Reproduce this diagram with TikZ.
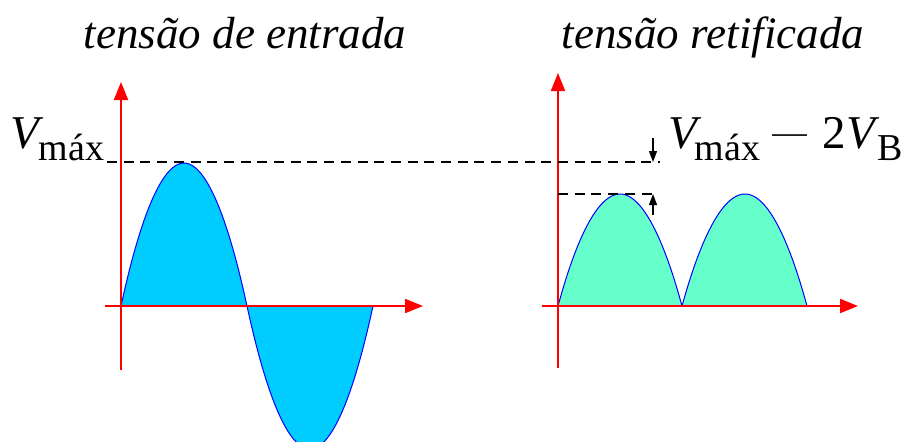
\documentclass[tikz,border=0pt]{standalone}
\usepackage{fontspec}
\setmainfont{Liberation Serif}
\usepackage{graphicx}
\usetikzlibrary{arrows.meta}
\definecolor{axis}{HTML}{FF0000}
\definecolor{curve}{HTML}{0000FF}
\definecolor{inwave}{HTML}{00CCFF}
\definecolor{outwave}{HTML}{66FFCC}
\definecolor{ink}{HTML}{000000}
\newcommand{\bigsz}{\fontsize{47}{52}\selectfont}
\newcommand{\subsz}{\fontsize{38}{42}\selectfont}
\tikzset{
  axisline/.style={draw=axis,line width=2pt,-{Triangle[length=18pt,width=14pt]}},
  wave/.style={draw=curve,line width=1pt},
  inwavefill/.style={wave,fill=inwave},
  outwavefill/.style={wave,fill=outwave},
  guide/.style={draw=ink,line width=1.6pt,dash pattern=on 10pt off 6.7pt},
  marker/.style={draw=ink,line width=1.2pt,-{Triangle[length=11pt,width=8pt]}},
  title/.style={font=\fontsize{45}{50}\selectfont\itshape,text=ink,anchor=base,inner sep=0},
  value/.style={font=\bigsz,text=ink,anchor=base west,inner sep=0},
}

\begin{document}
\begin{tikzpicture}[x=1pt,y=-1pt]
\useasboundingbox (0,0) rectangle (903,442);

% input voltage
\path[inwavefill] (121,306) parabola bend (184,163) (247,306) -- cycle;
\path[inwavefill] (247,306) parabola bend (310,449) (373,306) -- cycle;
\draw[axisline] (121,370) -- (121,82);
\draw[axisline] (105,306) -- (423,306);

% rectified voltage
\path[outwavefill] (558,306) parabola bend (620,194) (682,306) -- cycle;
\path[outwavefill] (682,306) parabola bend (745,194) (807,306) -- cycle;
\draw[axisline] (558,368) -- (558,73);
\draw[axisline] (542,306) -- (858,306);

% levels
\coordinate (peakin) at (107,162);
\coordinate (peakout) at (558,194);
\coordinate (topend) at (660,162);
\coordinate (lowend) at (658,194);
\draw[guide] (peakin) -- (topend);
\draw[guide] (peakout) -- (lowend);
\coordinate (dropa) at (653,138);
\coordinate (dropb) at (653,215);
\draw[marker] (dropa) -- (653,162);
\draw[marker] (dropb) -- (653,194);

\node[title] (intitle) at (245,48) {tensão de entrada};
\node[title] (outtitle) at (713,48) {tensão retificada};

\node[value] (vmax) at (10,148) {\itshape V\kern0pt\raisebox{-12pt}{\subsz\upshape máx}};
\node[value] (vout) at (668,148) {\itshape V\kern-2pt\raisebox{-12pt}{\subsz\upshape máx}\kern8pt\raisebox{2pt}{\scalebox{1.6}[0.7]{\upshape −}}\kern12pt\upshape 2\itshape V\kern3pt\raisebox{-12pt}{\subsz\upshape B}};
\end{tikzpicture}
\end{document}
